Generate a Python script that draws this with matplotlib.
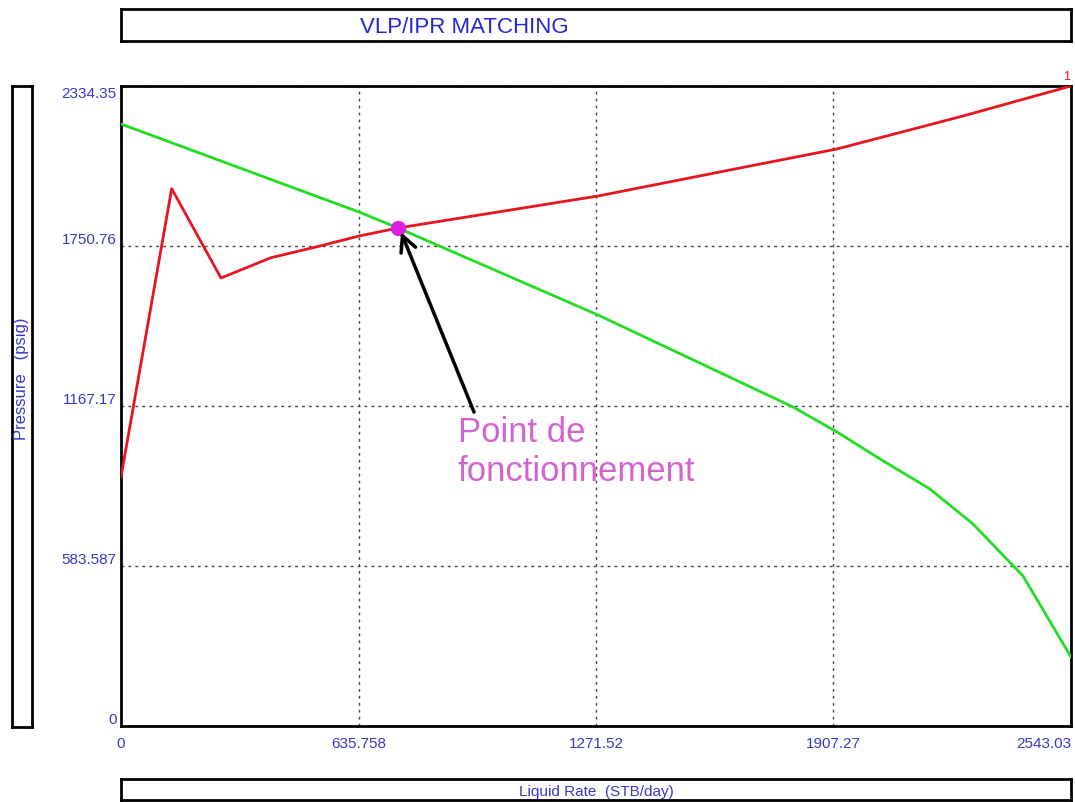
import matplotlib
matplotlib.use('Agg')
import matplotlib.pyplot as plt

plt.rcParams['font.family'] = ['Liberation Sans Narrow', 'Liberation Sans', 'DejaVu Sans']

# VLP curve (tubing performance)
vlp_rate = [0, 135.7, 267.7, 401.5, 532.7, 637.1, 741.5, 1276.9, 1657.0, 1916.7, 2253.9, 2543.03]
vlp_pressure = [908.2, 1959.8, 1634.0, 1708.1, 1750.8, 1787.2, 1816.4, 1933.1, 2035.3, 2104.6, 2224.9, 2334.35]

# IPR curve (reservoir inflow)
ipr_rate = [0, 637.1, 741.5, 1276.9, 1798.9, 1916.7, 2031.8, 2165.6, 2280.7, 2414.6, 2543.03]
ipr_pressure = [2195.7, 1874.8, 1816.4, 1499.1, 1163.5, 1072.3, 973.9, 864.4, 736.8, 547.1, 251.7]

# operating point where the two curves cross
op_rate = 741.5
op_pressure = 1816.4

x_ticks = [0, 635.758, 1271.52, 1907.27, 2543.03]
x_labels = ['0', '635.758', '1271.52', '1907.27', '2543.03']
y_ticks = [0, 583.587, 1167.17, 1750.76, 2334.35]
y_labels = ['0', '583.587', '1167.17', '1750.76', '2334.35']

W, H = 1075, 803
fig = plt.figure(figsize=(W / 100, H / 100), dpi=100)

def box(x0, y0, x1, y1):
    # pixel rectangle (top-left origin) -> framed empty axes
    b = fig.add_axes([x0 / W, 1 - y1 / H, (x1 - x0) / W, (y1 - y0) / H])
    b.set_xticks([])
    b.set_yticks([])
    for s in b.spines.values():
        s.set_linewidth(2)
    return b

ax = fig.add_axes([121 / W, 1 - 727 / H, 950 / W, 640 / H])

ax.plot(vlp_rate, vlp_pressure, color='#e8141e', lw=2, zorder=3)
ax.plot(ipr_rate, ipr_pressure, color='#22dd22', lw=2, zorder=3)
ax.plot([op_rate], [op_pressure], 'o', color='#e020e0', ms=10, zorder=5)
ax.text(vlp_rate[-1] - 12, vlp_pressure[-1] + 15, '1', color='#e8141e',
        fontsize=9, ha='center', va='bottom')

ax.set_xlim(0, x_ticks[-1])
ax.set_ylim(0, y_ticks[-1])
ax.set_xticks(x_ticks, x_labels)
ax.set_yticks(y_ticks, y_labels)
ax.tick_params(length=0, labelsize=11, labelcolor='#3838c8')
ax.tick_params(axis='x', pad=7)
ax.tick_params(axis='y', pad=3)
ylab = ax.get_yticklabels()
for i, t in enumerate(ylab):
    t.set_va('top' if i == len(ylab) - 1 else 'bottom')
ax.get_xticklabels()[-1].set_ha('right')

ax.grid(True, color='#444444', lw=1, linestyle=(0, (2, 3)))
for s in ax.spines.values():
    s.set_linewidth(2)

# arrow and label for the operating point
ax.annotate('', xy=(op_rate + 8, op_pressure - 15), xytext=(945, 1145),
            arrowprops=dict(arrowstyle='->', color='black', lw=2.5,
                            mutation_scale=28, shrinkA=0, shrinkB=0),
            zorder=6)
ax.text(902, 1135, 'Point de\nfonctionnement', color='#d264d2',
        fontsize=25, ha='left', va='top', linespacing=1.25,
        family=['Liberation Sans', 'DejaVu Sans'])

# title, axis label boxes
tb = box(121, 10, 1071, 42)
tb.text(0.252, 0.45, 'VLP/IPR MATCHING', color='#2424d8', fontsize=16,
        ha='left', va='center', transform=tb.transAxes)

yb = box(12, 87, 32, 728)
yb.text(0.5, 0.545, 'Pressure   (psig)', color='#3838c8', fontsize=12,
        rotation=90, ha='center', va='center', transform=yb.transAxes)

xb = box(121, 780, 1071, 801)
xb.text(0.5, 0.45, 'Liquid Rate  (STB/day)', color='#3838c8', fontsize=11,
        ha='center', va='center', transform=xb.transAxes)

fig.savefig('out.png', dpi=100)
